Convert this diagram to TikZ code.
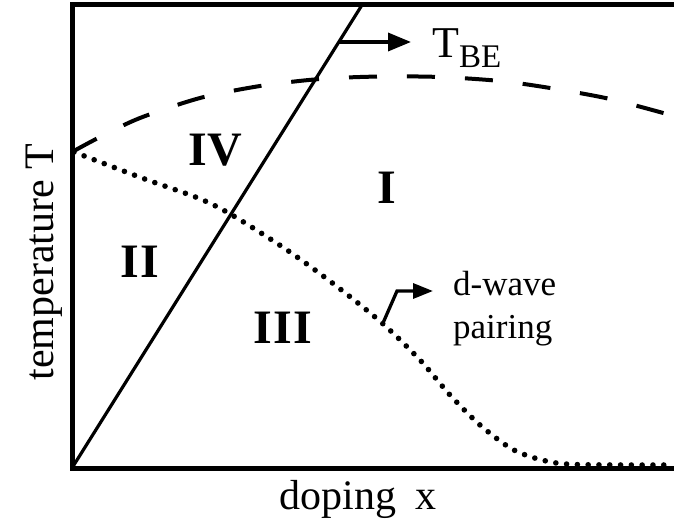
\documentclass[tikz,border=0pt]{standalone}
\usepackage{fontspec}
\setmainfont{Liberation Serif}
\usetikzlibrary{arrows.meta}
\begin{document}
\begin{tikzpicture}[x=1pt,y=-1pt,
  frame/.style={line width=5pt, line join=miter},
  bound/.style={line width=3.2pt},
  tcdash/.style={line width=4pt, dash pattern=on 28pt off 30pt},
  dwave/.style={line width=5.6pt, line cap=round, dash pattern=on 0pt off 10.8pt},
  pointerA/.style={line width=3.5pt, -{Triangle[length=23pt,width=18pt]}},
  pointerB/.style={line width=3.3pt, line join=miter, -{Triangle[length=20pt,width=15pt]}},
  region/.style={inner sep=0pt, font=\fontsize{48}{48}\selectfont\bfseries},
  lab/.style={inner sep=0pt, font=\fontsize{42}{50}\selectfont},
  small/.style={inner sep=0pt, font=\fontsize{35}{43}\selectfont}]
\useasboundingbox (0,0) rectangle (674,527);

% frame
\coordinate (tr) at (674,5);
\coordinate (tl) at (72,5);
\coordinate (bl) at (72,468);
\coordinate (br) at (674,468);
\draw[frame] (tr) -- (tl) -- (bl) -- (br);

% solid boundary line
\coordinate (ltop) at (362,5);
\draw[bound] (bl) -- (ltop);

% dashed T_BE curve
\draw[tcdash] plot[smooth] coordinates {(72,152) (100,137) (140,118) (200,98) (260,86) (320,79) (380,76.5) (440,77) (500,81) (550,88) (610,99) (674,116)};

% dotted d-wave curve
\draw[dwave] plot[smooth] coordinates {(74,152) (142,178) (198,198) (232,215) (287,250) (335,285) (382,323) (420,360) (450,395) (480,425) (512,449) (542,460) (575,464.5) (674,465)};

% T_BE arrow and label
\coordinate (tbeS) at (339,42);
\coordinate (tbeTip) at (411,42);
\draw[pointerA] (tbeS) -- (tbeTip);
\node[lab, anchor=base west] (tbe) at (432,57) {\fontsize{44}{50}\selectfont T\raisebox{-10pt}{\fontsize{33}{33}\selectfont BE}};

% d-wave pointer and label
\coordinate (dwS) at (383,323);
\coordinate (dwK) at (397,291);
\coordinate (dwTip) at (433,291);
\draw[pointerB] (dwS) -- (dwK) -- (dwTip);
\node[small, anchor=base west] (dw) at (453,295) {d-wave};
\node[small, anchor=base west] (pa) at (453,338) {pairing};

% region labels
\node[region] (rIV) at (215,150) {IV};
\node[region] (rI) at (387,188) {I};
\node[region] (rII) at (140,262) {I\kern1pt I};
\node[region] (rIII) at (283,328) {I\kern1pt I\kern1pt I};

% axis labels
\node[lab, anchor=base] (xl) at (358,509) {doping\hspace{0.45em}x};
\node[lab, rotate=90, anchor=base] (yl) at (53,262) {temperature T};
\end{tikzpicture}
\end{document}
